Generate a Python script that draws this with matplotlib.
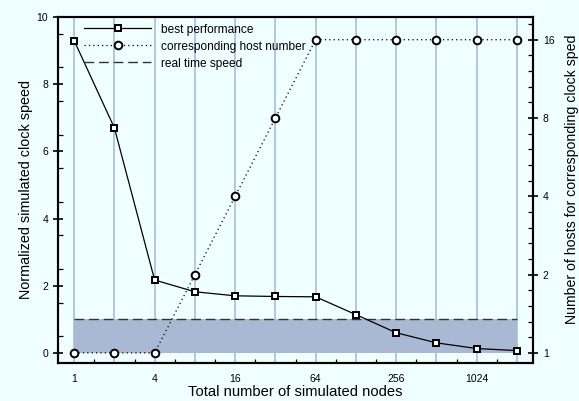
import numpy as np
import matplotlib
matplotlib.use('Agg')
import matplotlib.pyplot as plt
from matplotlib.ticker import FixedLocator, NullFormatter, FixedFormatter

# data
nodes = [1, 2, 4, 8, 16, 32, 64, 128, 256, 512, 1024, 2048]
best_speed = [9.3, 6.7, 2.17, 1.82, 1.70, 1.68, 1.67, 1.14, 0.6, 0.3, 0.13, 0.07]
host_number = [1, 1, 1, 2, 4, 8, 16, 16, 16, 16, 16, 16]
real_time = 1.0

xticks = [1, 4, 16, 64, 256, 1024]
left_ticks = [0, 2, 4, 6, 8, 10]
right_ticks = [1, 2, 4, 8, 16]

bg = '#f0ffff'
plt.rcParams['font.family'] = ['Liberation Sans', 'DejaVu Sans']

fig = plt.figure(figsize=(5.79, 4.01), dpi=100, facecolor=bg)
ax = fig.add_axes([0.1002, 0.0948, 0.8204, 0.8628])
ax.set_facecolor(bg)
ax.set_xscale('log', base=2)

for n in nodes:
    ax.axvline(n, color='#b4c6e2', lw=1.4, zorder=1)

ax.fill_between([nodes[0], nodes[-1]], 0, real_time, color='#a9b9d3', lw=0, zorder=2)
l3, = ax.plot([nodes[0], nodes[-1]], [real_time, real_time], color='#333333', lw=1.0,
              dashes=(7, 3.5), zorder=3, label='real time speed')
l1, = ax.plot(nodes, best_speed, '-', color='black', lw=0.9, marker='s', ms=5,
              mfc='white', mec='black', mew=1.4, zorder=5, label='best performance')

ax.set_xlim(2 ** -0.4, 2 ** 11.4)
ax.set_ylim(-0.3, 10)
ax.xaxis.set_major_locator(FixedLocator(xticks))
ax.xaxis.set_major_formatter(FixedFormatter([str(t) for t in xticks]))
ax.xaxis.set_minor_locator(FixedLocator(2 ** (np.arange(0, 12) + 0.5)))
ax.xaxis.set_minor_formatter(NullFormatter())
ax.yaxis.set_major_locator(FixedLocator(left_ticks))
ax.yaxis.set_minor_locator(FixedLocator(np.arange(0.5, 10, 1.0)))
ax.tick_params(axis='x', which='major', length=0, labelsize=7.5, pad=8)
ax.tick_params(axis='x', which='minor', direction='in', length=3, width=0.9)
ax.tick_params(axis='y', which='major', direction='inout', length=7, width=1.2, labelsize=7.5)
ax.tick_params(axis='y', which='minor', direction='in', length=3.5, width=0.9)
for s in ax.spines.values():
    s.set_linewidth(1.5)
ax.set_xlabel('Total number of simulated nodes', fontsize=10.6, labelpad=1)
ax.set_ylabel('Normalized simulated clock speed', fontsize=10.4, labelpad=3)

ax2 = ax.twinx()
ax2.set_yscale('log', base=2)
l2, = ax2.plot(nodes, host_number, linestyle=(0, (1, 2.5)), color='black', lw=0.9,
               marker='o', ms=5.5, mfc='white', mec='black', mew=1.4, zorder=5,
               label='corresponding host number')
ax2.set_ylim(2 ** -0.129, 2 ** 4.29)
ax2.yaxis.set_major_locator(FixedLocator(right_ticks))
ax2.yaxis.set_major_formatter(FixedFormatter([str(t) for t in right_ticks]))
minor = [2 ** v for v in np.arange(-0.2, 4.6, 0.2) if abs(v - round(v)) > 0.05]
ax2.yaxis.set_minor_locator(FixedLocator(minor))
ax2.yaxis.set_minor_formatter(NullFormatter())
ax2.tick_params(axis='y', which='major', direction='inout', length=7, width=1.2, labelsize=7.5)
ax2.tick_params(axis='y', which='minor', direction='in', length=3.5, width=0.9)
ax2.set_ylabel('Number of hosts for corresponding clock sped', fontsize=10.2)
ax2.yaxis.set_label_coords(1.067, 0.53)
for s in ax2.spines.values():
    s.set_linewidth(1.5)

leg = ax2.legend([l1, l2, l3], [l1.get_label(), l2.get_label(), l3.get_label()],
                 loc='upper left', bbox_to_anchor=(0.038, 1.005), frameon=False,
                 fontsize=8.6, handlelength=5.6, handletextpad=0.8, labelspacing=0.42,
                 borderaxespad=0.3)
leg.set_zorder(10)

fig.savefig('out.png', dpi=100, facecolor=bg)
